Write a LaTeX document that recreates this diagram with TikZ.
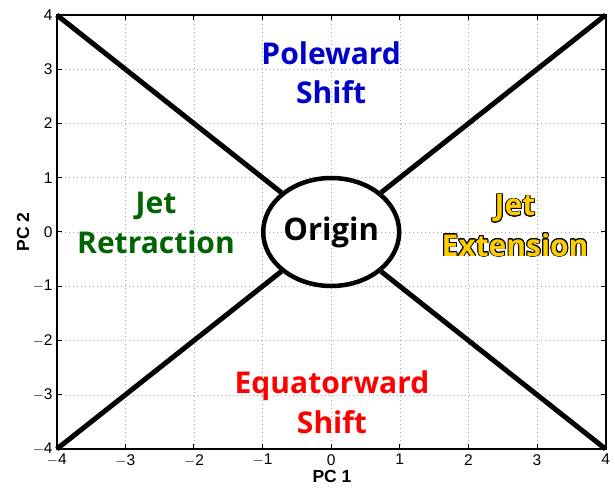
\documentclass[tikz,border=0pt]{standalone}
\usepackage{fontspec}
\setmainfont{Liberation Sans}
\newfontfamily\regfont{Open Sans}
\usepackage{contour}
\contourlength{0.9pt}
\usetikzlibrary{shapes.geometric}
\definecolor{polblue}{RGB}{0,0,205}
\definecolor{retgreen}{RGB}{0,100,0}
\definecolor{eqred}{RGB}{255,0,0}
\definecolor{extyellow}{RGB}{255,204,0}
\tikzset{
  gridline/.style={gray!70, line width=0.5pt, dash pattern=on 0.8pt off 3.2pt},
  frame/.style={line width=2.2pt, line cap=rect},
  tickmark/.style={line width=1pt},
  ticklabel/.style={font=\fontsize{15.5}{15.5}\selectfont, inner sep=0pt},
  axislabel/.style={font=\fontsize{17.5}{17.5}\selectfont\bfseries, inner sep=0pt},
  region/.style={font=\regfont\bfseries\fontsize{30}{30}\selectfont, anchor=base, inner sep=0pt},
  diag/.style={line width=5pt},
}
\begin{document}
\begin{tikzpicture}[x=68.6pt, y=54.25pt]
\useasboundingbox (-331.2pt,-255pt) rectangle (283.8pt,232pt);
\fill[white] (-331.2pt,-255pt) rectangle (283.8pt,232pt);
% grid
\foreach \i in {-3,...,3} {
  \draw[gridline] (\i,-4) -- (\i,4);
  \draw[gridline] (-4,\i) -- (4,\i);
}
% ticks
\foreach \i in {-4,...,4} {
  \draw[tickmark] (\i,-4) -- ++(0,5pt);
  \draw[tickmark] (\i,4) -- ++(0,-5pt);
  \draw[tickmark] (-4,\i) -- ++(5pt,0);
  \draw[tickmark] (4,\i) -- ++(-5pt,0);
}
% tick labels
\foreach \i/\t in {-4/$-$4,-3/$-$3,-2/$-$2,-1/$-$1,0/0,1/1,2/2,3/3,4/4} {
  \node[ticklabel, anchor=north] (xt\i) at (\i,-4) [yshift=-5pt] {\t};
  \node[ticklabel, anchor=east] (yt\i) at (-4,\i) [xshift=-4pt] {\t};
}
\node[axislabel, anchor=base] (xl) at (0.8pt,-250.5pt) {PC 1};
\node[axislabel, rotate=90] (yl) at (-308pt,0pt) {PC 2};
% frame
\draw[frame] (-4,-4) rectangle (4,4);
% corners
\coordinate (tl) at (-4,4);
\coordinate (tr) at (4,4);
\coordinate (bl) at (-4,-4);
\coordinate (br) at (4,-4);
% origin ellipse
\node[ellipse, draw, line width=4.5pt, minimum width=136pt, minimum height=108pt, inner sep=0pt,
      font=\regfont\bfseries\fontsize{31}{31}\selectfont] (origin) at (0,0) {Origin};
\draw[diag] (tl) -- (origin);
\draw[diag] (tr) -- (origin);
\draw[diag] (bl) -- (origin);
\draw[diag] (br) -- (origin);
% region labels
\node[region, text=polblue] (pol1) at (0pt,167pt) {Poleward};
\node[region, text=polblue] (pol2) at (0pt,128pt) {Shift};
\node[region, text=retgreen] (ret1) at (-175.2pt,18pt) {Jet};
\node[region, text=retgreen] (ret2) at (-175.2pt,-21pt) {Retraction};
\node[region] (ext1) at (183.8pt,16pt) {\contour{black}{\textcolor{extyellow}{Jet}}};
\node[region] (ext2) at (183.8pt,-24pt) {\contour{black}{\textcolor{extyellow}{Extension}}};
\node[region, text=eqred] (eq1) at (0.8pt,-161pt) {Equatorward};
\node[region, text=eqred] (eq2) at (0.8pt,-201pt) {Shift};
\end{tikzpicture}
\end{document}
